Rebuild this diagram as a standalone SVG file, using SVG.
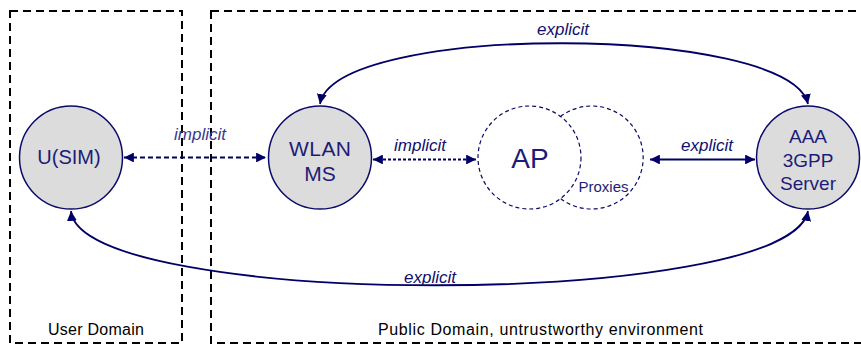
<svg xmlns="http://www.w3.org/2000/svg" width="861" height="345" viewBox="0 0 861 345">
<style>
.dom{fill:none;stroke:#000;stroke-width:2;stroke-dasharray:8 5}
.node{fill:#dcdcdc;stroke:#0a0a6a;stroke-width:1.5}
.ghost{fill:none;stroke:#0a0a6a;stroke-width:1.2;stroke-dasharray:4 3}
.t{font-family:"Liberation Sans",Arial,sans-serif;fill:#1c1c78;text-anchor:middle}
.lbl{font-family:"Liberation Sans",Arial,sans-serif;font-style:italic;font-size:17px;fill:#10106e;text-anchor:middle}
.dl{font-family:"Liberation Sans",Arial,sans-serif;font-size:16px;fill:#000;text-anchor:middle}
.c{fill:none;stroke:#000066;stroke-width:1.8}
</style>
<defs>
<marker id="ah" viewBox="0 0 10 10" refX="10" refY="5" markerWidth="5.5" markerHeight="5.5" orient="auto-start-reverse" markerUnits="strokeWidth">
<path d="M0,0 L10,5 L0,10 z" fill="#000066"/>
</marker>
</defs>
<g id="user-domain">
<rect class="dom" x="10" y="11" width="172" height="332"/>
<text class="dl" x="96" y="335" textLength="96">User Domain</text>
</g>
<g id="public-domain">
<rect class="dom" x="211" y="11" width="660" height="332"/>
<text class="dl" x="540.5" y="335" textLength="325">Public Domain, untrustworthy environment</text>
</g>
<g id="usim">
<circle class="node" cx="71" cy="157.5" r="51.5"/>
<text class="t" x="69" y="164" font-size="20">U(SIM)</text>
</g>
<g id="wlan-ms">
<circle class="node" cx="320" cy="157.5" r="51.5"/>
<text class="t" x="320" y="156" font-size="21" textLength="62">WLAN</text>
<text class="t" x="320" y="181" font-size="21">MS</text>
</g>
<g id="ap">
<circle class="ghost" cx="529.5" cy="157.5" r="51.5"/>
<text class="t" x="530" y="168" font-size="28">AP</text>
</g>
<g id="proxies">
<path class="ghost" d="M560.5,116.5 A51.5,51.5 0 1 1 560.5,198.5"/>
<text class="t" x="603.5" y="192" font-size="15">Proxies</text>
</g>
<g id="aaa">
<circle class="node" cx="808" cy="157.5" r="51.5"/>
<text class="t" x="808" y="143" font-size="19">AAA</text>
<text class="t" x="808" y="167" font-size="19">3GPP</text>
<text class="t" x="808" y="190" font-size="19">Server</text>
</g>
<g id="connectors">
<line x1="124" y1="157.5" x2="266" y2="157.5" class="c" stroke-dasharray="5 3" marker-start="url(#ah)" marker-end="url(#ah)"/>
<line x1="373" y1="159.5" x2="476" y2="159.5" class="c" stroke-width="1.5" stroke-dasharray="3 2" marker-start="url(#ah)" marker-end="url(#ah)"/>
<line x1="650" y1="159.5" x2="755" y2="159.5" class="c" marker-start="url(#ah)" marker-end="url(#ah)"/>
<path class="c" d="M320,104 C335,22 790,24 808,104" marker-start="url(#ah)" marker-end="url(#ah)"/>
<path class="c" d="M71,211 C80,310 790,310 808,211" marker-start="url(#ah)" marker-end="url(#ah)"/>
<text class="lbl" x="200" y="140" style="fill:#3a3a90">implicit</text>
<text class="lbl" x="420" y="151">implicit</text>
<text class="lbl" x="707" y="151">explicit</text>
<text class="lbl" x="563" y="35">explicit</text>
<text class="lbl" x="430" y="283">explicit</text>
</g>
</svg>
